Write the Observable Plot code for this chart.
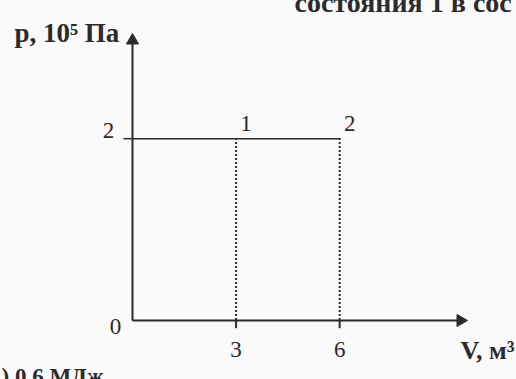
<!DOCTYPE html>
<html><head><meta charset="utf-8">
<script src="https://cdn.jsdelivr.net/npm/d3@7"></script>
<script src="https://cdn.jsdelivr.net/npm/@observablehq/plot@0.6"></script>
<style>body{margin:0;background:#fafafa}svg{display:block}</style>
</head><body><div id="chart"></div><script>
// data
const stateLabels = ["1", "2"];
const stateVolumes = [3, 6];
const statePressures = [2, 2];
const xTicks = [3, 6];
const yTicks = [2];
const originLabel = "0";
const xMax = 9.5;
const yMax = 3.08;
const yAxisLabel = "p, 10⁵ Па";
const xAxisLabel = "V, м³";
const topFragment = "состояния 1 в сос";
const bottomFragment = ") 0,6 МДж";

const ink = "#2b2b2b";
const font = "Liberation Serif, Times New Roman, serif";

const states = stateLabels.map((s, i) => ({label: s, V: stateVolumes[i], p: statePressures[i]}));
const isobar = [{V: 0, p: statePressures[0]}, ...states];
const axes = [
  {x1: 0, y1: 0, x2: xMax, y2: 0, rot: 90},
  {x1: 0, y1: 0, x2: 0, y2: yMax, rot: 0}
];

const chart = Plot.plot({
  width: 516,
  height: 379,
  marginLeft: 132,
  marginRight: 56,
  marginTop: 40,
  marginBottom: 59,
  x: {domain: [0, xMax], axis: null},
  y: {domain: [0, yMax], axis: null},
  style: {background: "#fafafa", fontFamily: font, color: ink},
  marks: [
    // axes with filled arrowheads
    Plot.link(axes, {x1: "x1", y1: "y1", x2: "x2", y2: "y2", stroke: ink, strokeWidth: 2}),
    Plot.dot(axes, {x: "x2", y: "y2", symbol: "triangle", rotate: "rot", r: 4.5, fill: ink, stroke: ink, strokeWidth: 1}),
    // tick marks
    Plot.ruleX(xTicks, {x: d => d, y1: 0, y2: -0.09, stroke: ink, strokeWidth: 2}),
    Plot.ruleY(yTicks, {y: d => d, x1: -0.25, x2: 0, stroke: ink, strokeWidth: 1.5}),
    // dotted verticals
    Plot.ruleX(states, {x: "V", y1: 0, y2: "p", stroke: ink, strokeWidth: 2, strokeDasharray: "2,2"}),
    // isobaric process line
    Plot.line(isobar, {x: "V", y: "p", stroke: ink, strokeWidth: 1.6}),
    // state labels
    Plot.text(states, {x: "V", y: "p", text: "label", dx: 10, dy: -15, fontSize: 23, fill: ink}),
    // tick labels
    Plot.text(xTicks, {x: d => d, y: 0, text: d => String(d), dy: 29, fontSize: 23, fill: ink}),
    Plot.text(yTicks, {x: 0, y: d => d, text: d => String(d), dx: -24, dy: -8, fontSize: 23, fill: ink}),
    Plot.text([originLabel], {x: 0, y: 0, text: d => d, dx: -17, dy: 6, fontSize: 23, fill: ink}),
    // axis labels
    Plot.text([yAxisLabel], {frameAnchor: "top-left", text: d => d, dx: -118, dy: -18, fontSize: 27, fontWeight: "bold", fill: ink, textAnchor: "start"}),
    Plot.text([xAxisLabel], {frameAnchor: "bottom-right", text: d => d, dx: 54, dy: 38, fontSize: 26, fontWeight: "bold", fill: ink, textAnchor: "end"}),
    // page fragments from the scan
    Plot.text([topFragment], {frameAnchor: "top-left", text: d => d, dx: 162, dy: -29, fontSize: 28, fontWeight: "bold", fill: ink, textAnchor: "start", lineAnchor: "bottom"}),
    Plot.text([bottomFragment], {frameAnchor: "bottom-left", text: d => d, dx: -131, dy: 47, fontSize: 23, fontWeight: "bold", fill: ink, textAnchor: "start", lineAnchor: "top"})
  ]
});
document.getElementById("chart").append(chart);
</script></body></html>
